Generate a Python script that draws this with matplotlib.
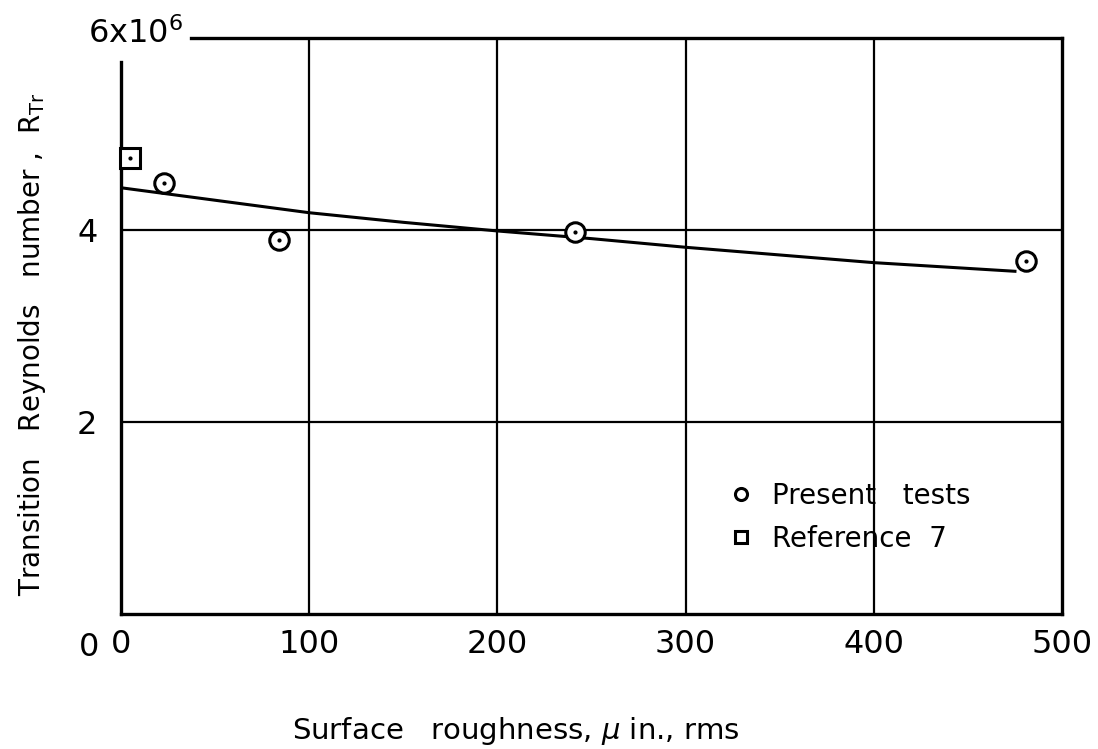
import matplotlib.pyplot as plt
import matplotlib.transforms as mtransforms

# data (roughness in micro-inches, Reynolds number in millions)
present_x = [23, 84, 241, 481]
present_y = [4.49, 3.90, 3.98, 3.68]
ref7_x = [5]
ref7_y = [4.75]

# faired curve through the data
fair_x = [0, 50, 100, 150, 200, 250, 300, 350, 400, 450, 475]
fair_y = [4.44, 4.31, 4.18, 4.08, 3.99, 3.91, 3.82, 3.74, 3.66, 3.60, 3.57]

xticks = [0, 100, 200, 300, 400, 500]
yticks = [0, 2, 4, 6]
ytick_labels = ['0', '2', '4', r'6x10$^6$']

plt.rcParams['font.family'] = ['DejaVu Sans']

fig = plt.figure(figsize=(10.98, 7.49), dpi=100)
ax = fig.add_axes([121 / 1098, 1 - 614 / 749, 941 / 1098, 576 / 749])

# curve
ax.plot(fair_x, fair_y, color='black', linewidth=2.2, zorder=3)

# data points
ax.plot(present_x, present_y, linestyle='none', marker='o', markersize=14,
        markerfacecolor='white', markeredgecolor='black', markeredgewidth=2.2,
        label='Present   tests', zorder=4)
ax.plot(present_x, present_y, linestyle='none', marker='.', markersize=4,
        color='black', zorder=5)
ax.plot(ref7_x, ref7_y, linestyle='none', marker='s', markersize=14,
        markerfacecolor='white', markeredgecolor='black', markeredgewidth=2.2,
        label='Reference  7', zorder=4, clip_on=False)
ax.plot(ref7_x, ref7_y, linestyle='none', marker='.', markersize=4,
        color='black', zorder=5, clip_on=False)

ax.set_xlim(0, 500)
ax.set_ylim(0, 6)
ax.set_xticks(xticks)
ax.set_yticks(yticks)
ax.set_yticklabels(ytick_labels)
ax.grid(True, color='black', linewidth=1.6)
ax.set_axisbelow(True)
# no grid lines on the frame itself
ax.xaxis.get_gridlines()[0].set_visible(False)
ax.xaxis.get_gridlines()[-1].set_visible(False)
ax.yaxis.get_gridlines()[0].set_visible(False)
ax.yaxis.get_gridlines()[-1].set_visible(False)

ax.tick_params(length=0, labelsize=23)
ax.tick_params(axis='x', pad=11)
ax.tick_params(axis='y', pad=17)
for s in ax.spines.values():
    s.set_linewidth(2.4)
# open corner at top left where the exponent label sits
ax.spines['top'].set_bounds(37, 500)
ax.spines['left'].set_bounds(0, 5.75)

# move the "0" of y axis a bit down and the 6x10^6 to the right
ylabels = ax.get_yticklabels()
ylabels[0].set_transform(ylabels[0].get_transform() +
                         mtransforms.ScaledTranslation(0.02, -0.3, fig.dpi_scale_trans))
ylabels[3].set_transform(ylabels[3].get_transform() +
                         mtransforms.ScaledTranslation(0.86, 0.08, fig.dpi_scale_trans))

ax.set_xlabel(r'Surface   roughness, $\mu$ in., rms', fontsize=21)
ax.xaxis.set_label_coords(0.419, -0.175)
ax.set_ylabel(r'Transition   Reynolds   number ,  R$_{\mathrm{Tr}}$', fontsize=20)
ax.yaxis.set_label_coords(-0.078, 0.468)

leg = ax.legend(loc='upper left', bbox_to_anchor=(0.618, 0.273), frameon=False,
                fontsize=20, markerscale=0.62, handlelength=1.0,
                handletextpad=0.6, labelspacing=0.55)

fig.savefig('out.png', dpi=100)
